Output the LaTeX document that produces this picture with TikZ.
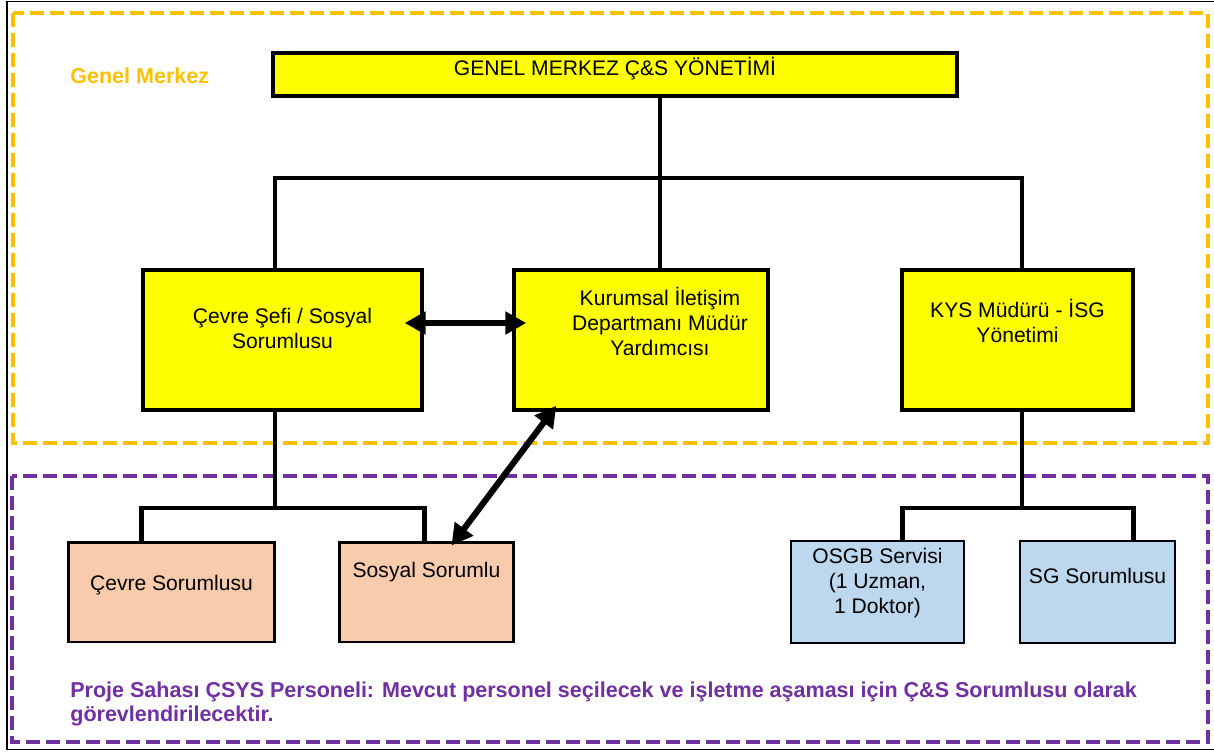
\documentclass[tikz,border=0pt]{standalone}
\usepackage{fontspec}
\setmainfont{Liberation Sans}
\usetikzlibrary{arrows.meta}
\definecolor{gmyellow}{HTML}{FFFF00}
\definecolor{gmorange}{HTML}{FFC000}
\definecolor{sitepurple}{HTML}{7030A0}
\definecolor{sitesalmon}{HTML}{F8CBAD}
\definecolor{siteblue}{HTML}{BDD7EE}
\tikzset{
	orgbox/.style = {
		rectangle,
		draw=black,
		align=center,
		inner sep=0pt,
		font=\fontsize{12}{14.2}\selectfont
	},
	node_y/.style = {
		orgbox,
		fill=gmyellow,
		line width=2pt,
		minimum height=2.8cm
	},
	node_s/.style = {
		orgbox,
		fill=sitesalmon,
		line width=1.7pt,
		minimum height=2cm
	},
	node_b/.style = {
		orgbox,
		fill=siteblue,
		line width=0.9pt,
		minimum height=2.04cm
	},
	lift/.style = {text depth=#1},
	link/.style = {line width=2.8pt},
	twoway/.style = {<->, >={Triangle[length=0.42cm,width=0.44cm]}, line width=3.5pt},
	zone/.style = {dash pattern=on 0.28cm off 0.12cm, line width=1.9pt},
	zonetitle/.style = {font=\fontsize{12.25}{14}\selectfont\bfseries, align=left, anchor=west, inner sep=0pt}
}
\begin{document}
\begin{tikzpicture}[x=0.02cm,y=-0.02cm]
\useasboundingbox (0,0) rectangle (1214,752);
% page frame and the two zones
\draw[line width=0.9pt] (1214,1.5) -- (7,1.5) -- (7,749.5) -- (1214,749.5);
\draw[zone, draw=gmorange] (13,13) rectangle (1208,443);
\draw[zone, draw=sitepurple] (12,476) rectangle (1208,742);
\node[zonetitle, text=gmorange] (hq) at (70,76) {Genel Merkez};
\node[zonetitle, text=sitepurple] (site) at (70,704) {Proje Sahası ÇSYS Personeli: Mevcut personel seçilecek ve işletme aşaması için Ç\&S Sorumlusu olarak\\görevlendirilecektir.};

% head office
\node[orgbox, fill=gmyellow, line width=2pt, minimum width=13.68cm, minimum height=0.86cm, lift=0.34cm] (gm) at (615,74.5) {GENEL MERKEZ Ç\&S YÖNETİMİ};
\node[node_y, minimum width=5.58cm, lift=0.45cm] (cevre) at (282.5,340) {Çevre Şefi / Sosyal\\Sorumlusu};
\node[node_y, minimum width=5.08cm, label={[orgbox, draw=none, xshift=0.38cm, yshift=0.37cm]center:Kurumsal İletişim\\Departmanı Müdür\\Yardımcısı}] (kurum) at (641,340) {};
\node[node_y, minimum width=4.62cm, lift=0.78cm] (kys) at (1017.5,340) {KYS Müdürü - İSG\\Yönetimi};

% site staff
\node[node_s, minimum width=4.14cm, lift=0.37cm] (cevS) at (171.5,592) {Çevre Sorumlusu};
\node[node_s, minimum width=3.5cm, lift=0.9cm] (sosS) at (426.5,592) {Sosyal Sorumlu};
\node[node_b, minimum width=3.46cm, lift=0.45cm] (osgb) at (877.5,592) {OSGB Servisi\\(1 Uzman,\\1 Doktor)};
\node[node_b, minimum width=3.1cm, lift=0.66cm] (sg) at (1097.5,592) {SG Sorumlusu};

% junctions
\coordinate (tj) at (660,178);
\coordinate (cj) at (275,508);
\coordinate (kj) at (1022,508);

\draw[link] (gm.south -| tj) -- (tj);
\draw[link] (cevre.north -| cj) -- (cj |- tj) -- (kj |- tj) -- (kys.north -| kj);
\draw[link] (tj) -- (kurum.north -| tj);

\draw[link] (cevre.south -| cj) -- (cj);
\draw[link] ([xshift=1.5cm]cevS.north west) |- (cj) -| ([xshift=-1.82cm]sosS.north east);
\draw[link] (kys.south -| kj) -- (kj);
\draw[link] ([xshift=2.24cm]osgb.north west) |- (kj) -| ([xshift=-0.84cm]sg.north east);

% two-way links
\draw[twoway] ([shift={(-0.38cm,0.34cm)}]cevre.east) -- ([shift={(0.28cm,0.34cm)}]kurum.west);
\draw[twoway] ([shift={(0.88cm,0.12cm)}]kurum.south west) -- ([shift={(2.28cm,-0.1cm)}]sosS.north west);
\end{tikzpicture}
\end{document}
